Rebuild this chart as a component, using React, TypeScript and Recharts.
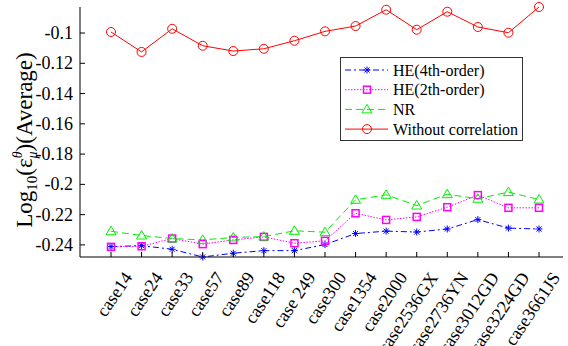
import React from "react";
import { LineChart, Line, XAxis, YAxis, Legend } from "recharts";

const cases = [
  "case14", "case24", "case33", "case57", "case89", "case118", "case 249", "case300",
  "case1354", "case2000", "case2536GX", "case2736YN", "case3012GD", "case3224GD", "case3661JS",
];
const he4 = [-0.2411, -0.2405, -0.2429, -0.248, -0.2455, -0.2438, -0.2438, -0.2398, -0.2325, -0.2309, -0.2315, -0.2295, -0.2233, -0.2289, -0.2295];
const he2 = [-0.2413, -0.2409, -0.2358, -0.2395, -0.2367, -0.2347, -0.2389, -0.2373, -0.2191, -0.2235, -0.2215, -0.2151, -0.2071, -0.2155, -0.2155];
const nr = [-0.231, -0.2338, -0.2358, -0.2367, -0.2351, -0.2345, -0.2307, -0.2316, -0.2102, -0.2069, -0.214, -0.2065, -0.2095, -0.2051, -0.21];
const noCorr = [-0.0993, -0.1125, -0.0972, -0.1084, -0.1119, -0.1104, -0.1051, -0.0989, -0.0954, -0.0846, -0.0978, -0.0859, -0.096, -0.0998, -0.0828];
const yTicks = [-0.24, -0.22, -0.2, -0.18, -0.16, -0.14, -0.12, -0.1];
const yDomain = [-0.248, -0.0828];

const data = cases.map((name, i) => ({
  name,
  he4: he4[i],
  he2: he2[i],
  nr: nr[i],
  noCorr: noCorr[i],
}));

const FONT = "Liberation Serif, Times New Roman, serif";
const BLUE = "#0000ff";
const MAGENTA = "#ff00ff";
const GREEN = "#00ee00";
const RED = "#ff0000";

// marker shapes
const Star = ({ cx, cy, color }: any) => {
  const r = 3.5;
  const d = r * 0.72;
  return (
    <g stroke={color} strokeWidth={1}>
      <line x1={cx - r} y1={cy} x2={cx + r} y2={cy} />
      <line x1={cx} y1={cy - r} x2={cx} y2={cy + r} />
      <line x1={cx - d} y1={cy - d} x2={cx + d} y2={cy + d} />
      <line x1={cx - d} y1={cy + d} x2={cx + d} y2={cy - d} />
    </g>
  );
};
const Square = ({ cx, cy, color }: any) => (
  <rect x={cx - 3.5} y={cy - 3.5} width={7} height={7} fill="none" stroke={color} strokeWidth={1.5} />
);
const Triangle = ({ cx, cy, color }: any) => (
  <polygon
    points={`${cx},${cy - 5} ${cx - 5},${cy + 3.5} ${cx + 5},${cy + 3.5}`}
    fill="none"
    stroke={color}
    strokeWidth={1}
  />
);
const Circle = ({ cx, cy, color }: any) => (
  <circle cx={cx} cy={cy} r={4.5} fill="none" stroke={color} strokeWidth={1} />
);

const series = [
  { key: "he4", label: "HE(4th-order)", color: BLUE, dash: "6 3 2 3", Marker: Star },
  { key: "he2", label: "HE(2th-order)", color: MAGENTA, dash: "1.5 1.5", Marker: Square },
  { key: "nr", label: "NR", color: GREEN, dash: "7 4", Marker: Triangle },
  { key: "noCorr", label: "Without correlation", color: RED, dash: undefined, Marker: Circle },
];

// ticks point inward on all four sides of the box
const LeftTick = ({ x, y, payload }: any) => (
  <g>
    <line x1={x} y1={y} x2={x + 5} y2={y} stroke="#000" />
    <text x={x - 7} y={y} textAnchor="end" dominantBaseline="central" fontSize={18} fontFamily={FONT} fill="#000">
      {String(parseFloat(Number(payload.value).toFixed(2)))}
    </text>
  </g>
);
const RightTick = ({ x, y }: any) => <line x1={x} y1={y} x2={x - 5} y2={y} stroke="#000" />;
const TopTick = ({ x, y }: any) => <line x1={x} y1={y} x2={x} y2={y + 5} stroke="#000" />;
const BottomTick = ({ x, y, payload }: any) => {
  const tx = x + 17;
  const ty = y + 17;
  return (
    <g>
      <line x1={x} y1={y} x2={x} y2={y - 5} stroke="#000" />
      <text
        x={tx}
        y={ty}
        textAnchor="end"
        dominantBaseline="central"
        transform={`rotate(-56, ${tx}, ${ty})`}
        fontSize={18}
        fontFamily={FONT}
        fill="#000"
      >
        {payload.value}
      </text>
    </g>
  );
};

const YLabel = () => (
  <text
    x={32}
    y={140}
    transform="rotate(-90, 32, 140)"
    textAnchor="middle"
    fontSize={23}
    fontFamily={FONT}
    fill="#000"
  >
    <tspan>Log</tspan>
    <tspan fontSize={15} dy={5}>10</tspan>
    <tspan dy={-5}>(ε</tspan>
    <tspan fontSize={14} fontStyle="italic" dy={-10}>θ</tspan>
    <tspan fontSize={14} fontStyle="italic" dx={-7} dy={15}>μ</tspan>
    <tspan dy={-5}>)(Average)</tspan>
  </text>
);

const LegendBox = () => (
  <svg width={183} height={84} style={{ display: "block" }}>
    <rect x={0.5} y={0.5} width={182} height={83} fill="#fff" stroke="#333" />
    {series.map((s, i) => {
      const y = 13 + i * 19.7;
      const M = s.Marker;
      return (
        <g key={s.key}>
          <line x1={5} y1={y} x2={48} y2={y} stroke={s.color} strokeDasharray={s.dash} />
          <M cx={27} cy={y} color={s.color} />
          <text x={53} y={y} dominantBaseline="central" fontSize={16} fontFamily={FONT} fill="#000">
            {s.label}
          </text>
        </g>
      );
    })}
  </svg>
);

export default function App() {
  return (
    <div style={{ position: "absolute", left: 0, top: 0, background: "#fff" }}>
      <LineChart width={568} height={346} data={data} margin={{ top: 7, right: 5, bottom: 0, left: 0 }}>
        <XAxis
          dataKey="name"
          height={89}
          interval={0}
          padding={{ left: 31, right: 24 }}
          tickSize={0}
          tickMargin={0}
          axisLine={{ stroke: "#000" }}
          tick={(p: any) => <BottomTick {...p} />}
        />
        <XAxis
          xAxisId="top"
          orientation="top"
          dataKey="name"
          height={0}
          interval={0}
          padding={{ left: 31, right: 24 }}
          tickSize={0}
          tickMargin={0}
          axisLine={{ stroke: "#000" }}
          tick={(p: any) => <TopTick {...p} />}
        />
        <YAxis
          type="number"
          width={80}
          domain={yDomain}
          ticks={yTicks}
          tickSize={0}
          tickMargin={0}
          axisLine={{ stroke: "#000" }}
          tick={(p: any) => <LeftTick {...p} />}
          label={{ content: () => <YLabel /> }}
        />
        <YAxis
          yAxisId="right"
          orientation="right"
          type="number"
          width={0}
          domain={yDomain}
          ticks={yTicks}
          allowDataOverflow
          tickSize={0}
          tickMargin={0}
          axisLine={{ stroke: "#000" }}
          tick={(p: any) => <RightTick {...p} />}
        />
        <Legend
          layout="horizontal"
          verticalAlign="middle"
          align="center"
          content={() => <LegendBox />}
          wrapperStyle={{ position: "absolute", left: 340, top: 57, width: 183, height: 84 }}
        />
        {series.map((s) => (
          <Line
            key={s.key}
            type="linear"
            dataKey={s.key}
            stroke={s.color}
            strokeWidth={1}
            strokeDasharray={s.dash}
            dot={(p: any) => <s.Marker key={`${s.key}-${p.index}`} cx={p.cx} cy={p.cy} color={s.color} />}
            activeDot={false}
            isAnimationActive={false}
          />
        ))}
      </LineChart>
    </div>
  );
}
